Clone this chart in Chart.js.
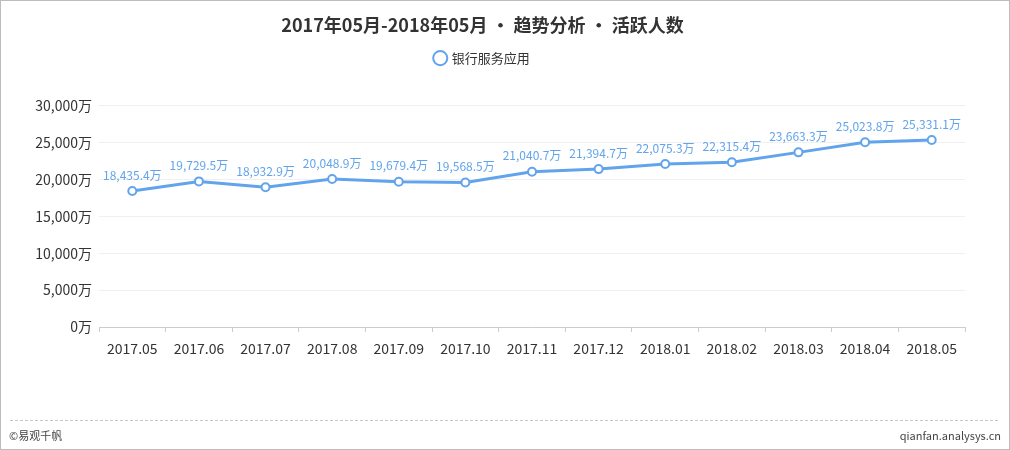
<!DOCTYPE html>
<html><head><meta charset="utf-8">
<script src="https://cdn.jsdelivr.net/npm/chart.js@4"></script>
<style>html,body{margin:0;padding:0;background:#fff;}#wrap{position:relative;width:1010px;height:450px;}</style>
</head><body><div id="wrap"><canvas id="c" width="1010" height="450"></canvas></div>
<script>
const categories = ['2017.05','2017.06','2017.07','2017.08','2017.09','2017.10','2017.11','2017.12','2018.01','2018.02','2018.03','2018.04','2018.05'];
const activeUsers = [18435.4,19729.5,18932.9,20048.9,19679.4,19568.5,21040.7,21394.7,22075.3,22315.4,23663.3,25023.8,25331.1];
const seriesName = '银行服务应用';
const titleText = '2017年05月-2018年05月 • 趋势分析 • 活跃人数';
const footerLeft = '©易观千帆';
const footerRight = 'qianfan.analysys.cn';

const FONT = '"Noto Sans CJK SC", "Noto Sans", sans-serif';
const fmt = v => v.toLocaleString('en-US',{minimumFractionDigits:1,maximumFractionDigits:1}) + '万';

const legendGap = {
  id:'legendGap',
  beforeInit(chart){
    const lg = chart.legend;
    if(lg){
      const orig = lg.fit;
      lg.fit = function(){ orig.call(this); this.height += 31; };
    }
  }
};
const labelPlugin = {
  id:'labels',
  afterDatasetsDraw(chart){
    const ctx = chart.ctx;
    const meta = chart.getDatasetMeta(0);
    ctx.save();
    ctx.font = '12px ' + FONT;
    ctx.fillStyle = '#62a4ec';
    ctx.textAlign = 'center';
    ctx.textBaseline = 'bottom';
    meta.data.forEach((p,i)=>{
      ctx.fillText(fmt(chart.data.datasets[0].data[i]), p.x, p.y - 10);
    });
    ctx.restore();
  }
};
const framePlugin = {
  id:'frame',
  afterDraw(chart){
    const ctx = chart.ctx;
    ctx.save();
    ctx.strokeStyle = '#bdbdbd';
    ctx.lineWidth = 1;
    ctx.strokeRect(0.5,0.5,1009,449);
    ctx.setLineDash([3,2]);
    ctx.strokeStyle = '#c8c8c8';
    ctx.beginPath(); ctx.moveTo(10,420.5); ctx.lineTo(1000,420.5); ctx.stroke();
    ctx.setLineDash([]);
    ctx.font = '11px ' + FONT;
    ctx.fillStyle = '#444';
    ctx.textBaseline = 'middle';
    ctx.textAlign = 'left';
    ctx.fillText(footerLeft, 9, 436);
    ctx.textAlign = 'right';
    ctx.fillText(footerRight, 1001, 436);
    ctx.restore();
  }
};

new Chart(document.getElementById('c'), {
  type:'line',
  data:{
    labels: categories,
    datasets:[{
      label: seriesName,
      data: activeUsers,
      borderColor:'#62a4ec',
      backgroundColor:'#ffffff',
      borderWidth:3,
      pointRadius:4,
      pointBorderWidth:2,
      pointBackgroundColor:'#ffffff',
      pointBorderColor:'#62a4ec',
      tension:0,
      fill:false
    }]
  },
  options:{
    responsive:false,
    animation:false,
    devicePixelRatio:1,
    layout:{padding:{left:0,right:45,top:0,bottom:93}},
    plugins:{
      title:{display:true,text:titleText,color:'#333',font:{family:FONT,size:18,weight:'bold'},padding:{top:14,bottom:6}},
      legend:{display:true,labels:{usePointStyle:true,pointStyle:'circle',boxWidth:10,boxHeight:10,color:'#333',font:{family:FONT,size:13},padding:10},onClick:null},
      tooltip:{enabled:false}
    },
    scales:{
      x:{
        offset:true,
        border:{display:true,color:'#cccccc'},
        grid:{offset:true,drawOnChartArea:false,drawTicks:true,tickLength:5,color:'#cccccc'},
        ticks:{color:'#333',font:{family:FONT,size:14},padding:8,maxRotation:0},
        afterFit(s){ s.height = 30; }
      },
      y:{
        min:0,max:30000,
        border:{display:false},
        grid:{color:'#f0f0f0',drawTicks:false},
        ticks:{stepSize:5000,color:'#333',font:{family:FONT,size:14},padding:7,callback:v=>v.toLocaleString('en-US')+'万'},
        afterFit(s){ s.width = 99; }
      }
    }
  },
  plugins:[legendGap, labelPlugin, framePlugin]
});
</script></body></html>
